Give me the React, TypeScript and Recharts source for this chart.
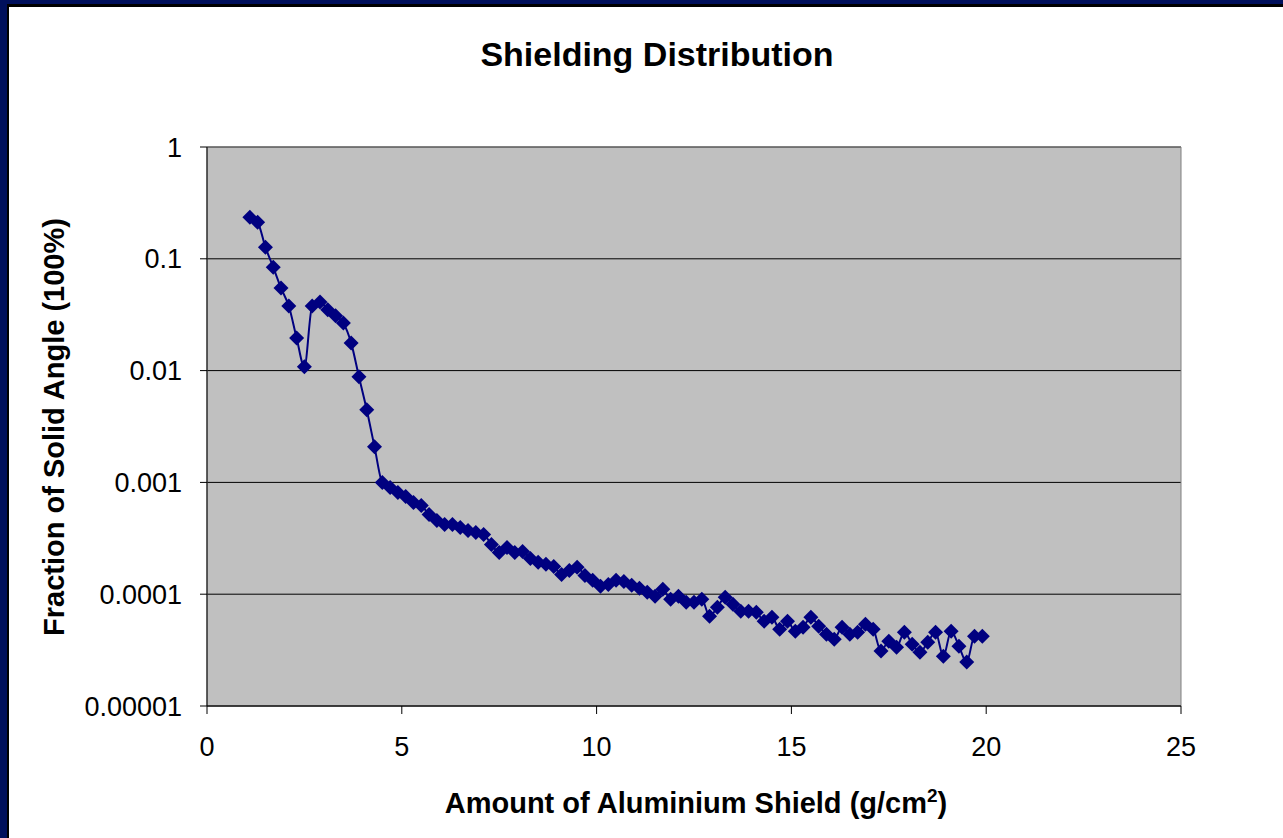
import React from 'react';
import { ComposedChart, Line, XAxis, YAxis, CartesianGrid, ReferenceArea } from 'recharts';

const shieldX = [
  1.1, 1.3, 1.5, 1.7, 1.9, 2.1, 2.3, 2.5, 2.7, 2.9,
  3.1, 3.3, 3.5, 3.7, 3.9, 4.1, 4.3, 4.5, 4.7, 4.9,
  5.1, 5.3, 5.5, 5.7, 5.9, 6.1, 6.3, 6.5, 6.7, 6.9,
  7.1, 7.3, 7.5, 7.7, 7.9, 8.1, 8.3, 8.5, 8.7, 8.9,
  9.1, 9.3, 9.5, 9.7, 9.9, 10.1, 10.3, 10.5, 10.7, 10.9,
  11.1, 11.3, 11.5, 11.7, 11.9, 12.1, 12.3, 12.5, 12.7, 12.9,
  13.1, 13.3, 13.5, 13.7, 13.9, 14.1, 14.3, 14.5, 14.7, 14.9,
  15.1, 15.3, 15.5, 15.7, 15.9, 16.1, 16.3, 16.5, 16.7, 16.9,
  17.1, 17.3, 17.5, 17.7, 17.9, 18.1, 18.3, 18.5, 18.7, 18.9,
  19.1, 19.3, 19.5, 19.7, 19.9,
];

const solidAngleFraction = [
  0.235, 0.212, 0.127, 0.0841, 0.0547, 0.0378, 0.0196, 0.0108, 0.0378, 0.041,
  0.035, 0.031, 0.0267, 0.0177, 0.0088, 0.00446, 0.00208, 0.000996, 0.000899, 0.000811,
  0.000747, 0.00066, 0.000621, 0.000516, 0.000456, 0.00042, 0.00042, 0.000395, 0.000372, 0.000357,
  0.000342, 0.000279, 0.000236, 0.000262, 0.000236, 0.000241, 0.000209, 0.000193, 0.000185, 0.000177,
  0.00015, 0.000163, 0.000174, 0.000147, 0.000133, 0.000118, 0.000122, 0.000133, 0.00013, 0.00012,
  0.000113, 0.000104, 0.0000958, 0.000111, 0.0000901, 0.0000958, 0.0000848, 0.0000848, 0.0000901, 0.0000636,
  0.0000764, 0.0000938, 0.0000812, 0.0000703, 0.0000703, 0.0000689, 0.0000573, 0.0000622, 0.0000486, 0.0000573,
  0.0000467, 0.0000507, 0.0000622, 0.0000518, 0.0000439, 0.0000396, 0.0000507, 0.0000439, 0.0000457, 0.0000538,
  0.0000486, 0.000031, 0.000038, 0.0000336, 0.0000457, 0.0000357, 0.0000303, 0.0000372, 0.0000457, 0.0000279,
  0.0000467, 0.0000343, 0.0000247, 0.0000421, 0.0000421,
];

const xTicks = [0, 5, 10, 15, 20, 25];
const yTicks = [0.00001, 0.0001, 0.001, 0.01, 0.1, 1];
const yTickLabels = ['0.00001', '0.0001', '0.001', '0.01', '0.1', '1'];

const data = shieldX.map((x, i) => ({ x, y: solidAngleFraction[i] }));

const FONT = '"Liberation Sans", Arial, sans-serif';

const Diamond = (props: any) => {
  const { cx, cy, index } = props;
  if (cx == null || cy == null) return null;
  const r = 7.5;
  return (
    <polygon
      key={`d-${index}`}
      points={`${cx},${cy - r} ${cx + r},${cy} ${cx},${cy + r} ${cx - r},${cy}`}
      fill="#000080"
      stroke="none"
    />
  );
};

const formatY = (v: number) => {
  const idx = yTicks.findIndex((t) => Math.abs(t - v) / t < 1e-6);
  return idx >= 0 ? yTickLabels[idx] : String(v);
};

export default function App() {
  return (
    <div style={{ position: 'fixed', left: 0, top: 0, width: 1283, height: 838, background: '#00105C', overflow: 'hidden' }}>
      <div
        style={{
          position: 'absolute',
          left: 7,
          top: 4,
          right: 0,
          bottom: 0,
          background: '#FFFFFF',
          borderLeft: '2px solid #000000',
          borderTop: '3px solid #000000',
        }}
      />
      <div
        style={{
          position: 'absolute',
          left: 0,
          width: 1314,
          top: 34,
          textAlign: 'center',
          fontFamily: FONT,
          fontWeight: 'bold',
          fontSize: 34,
          color: '#000',
          lineHeight: '40px',
        }}
      >
        Shielding Distribution
      </div>
      <div
        style={{
          position: 'absolute',
          left: 0,
          width: 1392,
          top: 786,
          textAlign: 'center',
          fontFamily: FONT,
          fontWeight: 'bold',
          fontSize: 29,
          color: '#000',
          lineHeight: '34px',
        }}
      >
        Amount of Aluminium Shield (g/cm<sup style={{ fontSize: 19, lineHeight: 0 }}>2</sup>)
      </div>
      <div
        style={{
          position: 'absolute',
          left: 54 - 300,
          top: 427 - 17,
          width: 600,
          height: 34,
          textAlign: 'center',
          fontFamily: FONT,
          fontWeight: 'bold',
          fontSize: 29,
          color: '#000',
          lineHeight: '34px',
          transform: 'rotate(-90deg)',
        }}
      >
        Fraction of Solid Angle (100%)
      </div>
      <div style={{ position: 'absolute', left: 0, top: 0 }}>
        <ComposedChart width={1283} height={838} data={data} margin={{ top: 147, right: 102, bottom: 0, left: 0 }}>
          <CartesianGrid horizontal={true} vertical={false} fill="#C0C0C0" stroke="#000000" strokeWidth={1} />
          <ReferenceArea x1={0} x2={25} y1={0.00001} y2={1} fill="none" stroke="#808080" strokeWidth={1} ifOverflow="visible" />
          <XAxis
            type="number"
            dataKey="x"
            domain={[0, 25]}
            ticks={xTicks}
            height={132}
            tickSize={8}
            tickMargin={23}
            stroke="#000000"
            tick={{ fill: '#000', fontSize: 27, fontFamily: FONT }}
            allowDataOverflow
          />
          <YAxis
            type="number"
            scale="log"
            domain={[0.00001, 1]}
            ticks={yTicks}
            width={207}
            tickSize={7}
            tickMargin={18}
            stroke="#000000"
            tickFormatter={formatY}
            tick={{ fill: '#000', fontSize: 27, fontFamily: FONT }}
            allowDataOverflow
          />
          <Line
            type="monotone"
            dataKey="y"
            stroke="#000080"
            strokeWidth={2}
            dot={<Diamond />}
            activeDot={false}
            isAnimationActive={false}
          />
        </ComposedChart>
      </div>
    </div>
  );
}
